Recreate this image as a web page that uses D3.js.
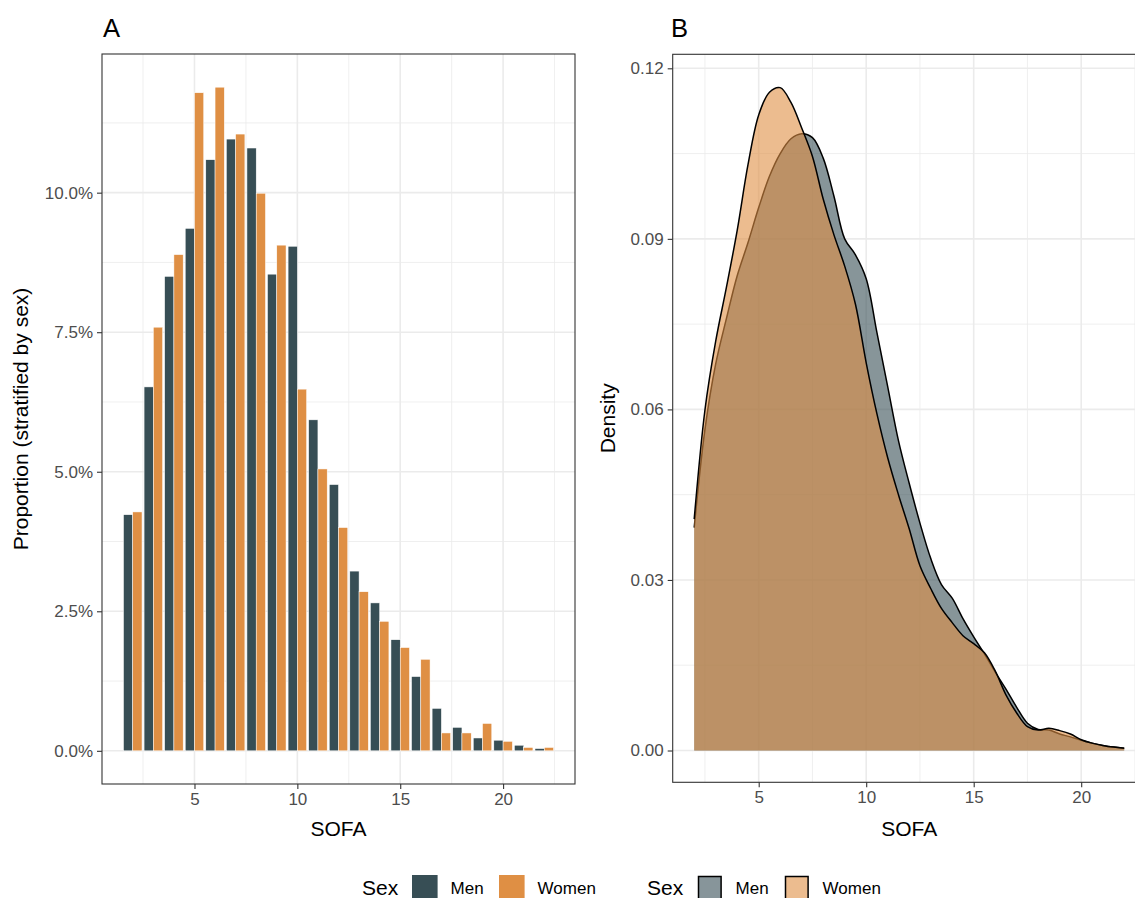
<!DOCTYPE html>
<html>
<head>
<meta charset="utf-8">
<script src="https://cdn.jsdelivr.net/npm/d3@7"></script>
<style>
  html, body { margin: 0; padding: 0; background: #ffffff; }
  svg { display: block; font-family: "Liberation Sans", Arial, Helvetica, sans-serif; }
</style>
</head>
<body>
<svg id="chart" width="1135" height="898"></svg>
<script>
// SOFA score categories and proportion of patients (stratified by sex)
const sofaScores = d3.range(2, 23);
const menProportion = [0.0423, 0.0652, 0.0850, 0.0936, 0.1059, 0.1096, 0.1080, 0.0854, 0.0904, 0.0593, 0.0477,
                       0.0322, 0.0265, 0.0199, 0.0133, 0.0076, 0.0042, 0.0023, 0.0019, 0.0010, 0.0004];
const womenProportion = [0.0428, 0.0759, 0.0889, 0.1179, 0.1189, 0.1105, 0.0999, 0.0906, 0.0648, 0.0505, 0.0400,
                         0.0285, 0.0232, 0.0185, 0.0164, 0.0032, 0.0032, 0.0049, 0.0017, 0.0006, 0.0006];

// Kernel density estimates of SOFA, evaluated on a half-point grid
const densityGrid = d3.range(2, 22.01, 0.5);
const menDensity = [0.0392, 0.0565, 0.0680, 0.0760, 0.0835, 0.0893, 0.0955, 0.1010, 0.1050, 0.1076, 0.1085,
                    0.1078, 0.1042, 0.0975, 0.0900, 0.0872, 0.0830, 0.0735, 0.0640, 0.0545, 0.0470, 0.0400,
                    0.0338, 0.0292, 0.0268, 0.0232, 0.0200, 0.0170, 0.0138, 0.0108, 0.0076, 0.0048, 0.0037,
                    0.0036, 0.0029, 0.0024, 0.0018, 0.0013, 0.0009, 0.0006, 0.0004];
const womenDensity = [0.0407, 0.0599, 0.0720, 0.0815, 0.0915, 0.1030, 0.1118, 0.1158, 0.1166, 0.1140, 0.1095,
                      0.1045, 0.0970, 0.0907, 0.0852, 0.0785, 0.0682, 0.0592, 0.0515, 0.0450, 0.0390, 0.0325,
                      0.0285, 0.0250, 0.0225, 0.0202, 0.0188, 0.0172, 0.0140, 0.0098, 0.0066, 0.0042, 0.0036,
                      0.0039, 0.0035, 0.0029, 0.0019, 0.0013, 0.0009, 0.0006, 0.0004];

const sexLabels = ["Men", "Women"];
const xTicks = [5, 10, 15, 20];
const propTicks = [0, 0.025, 0.05, 0.075, 0.10];
const densTicks = [0, 0.03, 0.06, 0.09, 0.12];

const colMen = "#374E55", colWomen = "#DF8F44";
const gridMajor = "#EBEBEB", border = "#333333", tickText = "#4D4D4D";

const svg = d3.select("#chart");

function drawGrid(g, x, y, xMajor, xMinor, yMajor, yMinor, x0, x1, y0, y1) {
  const grid = g.append("g");
  grid.selectAll(".vmin").data(xMinor).join("line")
    .attr("x1", d => x(d)).attr("x2", d => x(d)).attr("y1", y0).attr("y2", y1)
    .attr("stroke", gridMajor).attr("stroke-width", 0.8);
  grid.selectAll(".hmin").data(yMinor).join("line")
    .attr("x1", x0).attr("x2", x1).attr("y1", d => y(d)).attr("y2", d => y(d))
    .attr("stroke", gridMajor).attr("stroke-width", 0.8);
  grid.selectAll(".vmaj").data(xMajor).join("line")
    .attr("x1", d => x(d)).attr("x2", d => x(d)).attr("y1", y0).attr("y2", y1)
    .attr("stroke", gridMajor).attr("stroke-width", 1.6);
  grid.selectAll(".hmaj").data(yMajor).join("line")
    .attr("x1", x0).attr("x2", x1).attr("y1", d => y(d)).attr("y2", d => y(d))
    .attr("stroke", gridMajor).attr("stroke-width", 1.6);
}

function styleAxis(ax) {
  ax.select(".domain").remove();
  ax.selectAll(".tick line").attr("stroke", border).attr("stroke-width", 1.1);
  ax.selectAll(".tick text").attr("fill", tickText).style("font-size", "17px")
    .style("font-family", "'Liberation Sans', Arial, sans-serif");
}

/* ---------- Panel A: bar chart ---------- */
const A = { left: 102, right: 575, top: 54, bottom: 784 };
const xA = d3.scaleLinear().domain([0.505, 23.495]).range([A.left, A.right]);
const yA = d3.scaleLinear().domain([-0.005945, 0.124845]).range([A.bottom, A.top]);
const gA = svg.append("g");

drawGrid(gA, xA, yA, xTicks, [2.5, 7.5, 12.5, 17.5, 22.5], propTicks,
         [0.0125, 0.0375, 0.0625, 0.0875, 0.1125], A.left, A.right, A.top, A.bottom);

const barHalf = 0.45;
const barRows = sofaScores.map((s, i) => ({ s, men: menProportion[i], women: womenProportion[i] }));
gA.append("g").selectAll("rect").data(barRows).join("rect")
  .attr("x", d => xA(d.s - barHalf)).attr("width", d => xA(d.s) - xA(d.s - barHalf))
  .attr("y", d => yA(d.men)).attr("height", d => yA(0) - yA(d.men))
  .attr("fill", colMen).attr("stroke", "#ffffff").attr("stroke-width", 0.5);
gA.append("g").selectAll("rect").data(barRows).join("rect")
  .attr("x", d => xA(d.s)).attr("width", d => xA(d.s + barHalf) - xA(d.s))
  .attr("y", d => yA(d.women)).attr("height", d => yA(0) - yA(d.women))
  .attr("fill", colWomen).attr("stroke", "#ffffff").attr("stroke-width", 0.5);

gA.append("rect").attr("x", A.left).attr("y", A.top)
  .attr("width", A.right - A.left).attr("height", A.bottom - A.top)
  .attr("fill", "none").attr("stroke", border).attr("stroke-width", 1.1);

const axAx = gA.append("g").attr("transform", `translate(0,${A.bottom})`)
  .call(d3.axisBottom(xA).tickValues(xTicks).tickSize(5).tickPadding(4).tickFormat(d3.format("d")));
styleAxis(axAx);
const axAy = gA.append("g").attr("transform", `translate(${A.left},0)`)
  .call(d3.axisLeft(yA).tickValues(propTicks).tickSize(5).tickPadding(4).tickFormat(d3.format(".1%")));
styleAxis(axAy);

gA.append("text").attr("x", (A.left + A.right) / 2).attr("y", 836)
  .attr("text-anchor", "middle").style("font-size", "21px").attr("fill", "#000").text("SOFA");
gA.append("text").attr("transform", `translate(28,${(A.top + A.bottom) / 2}) rotate(-90)`)
  .attr("text-anchor", "middle").style("font-size", "21px").attr("fill", "#000")
  .text("Proportion (stratified by sex)");
gA.append("text").attr("x", 103).attr("y", 37).style("font-size", "25.6px").attr("fill", "#000").text("A");

/* ---------- Panel B: density plot ---------- */
const B = { left: 672.7, right: 1145.7, top: 54.3, bottom: 782.3 };
const xB = d3.scaleLinear().domain([1, 23]).range([B.left, B.right]);
const yB = d3.scaleLinear().domain([-0.005592, 0.122463]).range([B.bottom, B.top]);
const gB = svg.append("g");

drawGrid(gB, xB, yB, xTicks, [2.5, 7.5, 12.5, 17.5, 22.5], densTicks,
         [0.015, 0.045, 0.075, 0.105], B.left, B.right, B.top, B.bottom);

const curve = d3.curveCatmullRom.alpha(0.5);
const area = d3.area().x(d => xB(d[0])).y0(yB(0)).y1(d => yB(d[1])).curve(curve);
const line = d3.line().x(d => xB(d[0])).y(d => yB(d[1])).curve(curve);
const menPts = densityGrid.map((g, i) => [g, menDensity[i]]);
const womenPts = densityGrid.map((g, i) => [g, womenDensity[i]]);

[[menPts, colMen], [womenPts, colWomen]].forEach(([pts, col]) => {
  gB.append("path").datum(pts).attr("d", area).attr("fill", col).attr("fill-opacity", 0.6);
  gB.append("path").datum(pts).attr("d", line).attr("fill", "none")
    .attr("stroke", "#000").attr("stroke-width", 1.5);
});

gB.append("rect").attr("x", B.left).attr("y", B.top)
  .attr("width", B.right - B.left).attr("height", B.bottom - B.top)
  .attr("fill", "none").attr("stroke", border).attr("stroke-width", 1.1);

const axBx = gB.append("g").attr("transform", `translate(0,${B.bottom})`)
  .call(d3.axisBottom(xB).tickValues(xTicks).tickSize(5).tickPadding(4).tickFormat(d3.format("d")));
styleAxis(axBx);
const axBy = gB.append("g").attr("transform", `translate(${B.left},0)`)
  .call(d3.axisLeft(yB).tickValues(densTicks).tickSize(5).tickPadding(4).tickFormat(d3.format(".2f")));
styleAxis(axBy);

gB.append("text").attr("x", (B.left + B.right) / 2).attr("y", 836)
  .attr("text-anchor", "middle").style("font-size", "21px").attr("fill", "#000").text("SOFA");
gB.append("text").attr("transform", `translate(615,${(B.top + B.bottom) / 2}) rotate(-90)`)
  .attr("text-anchor", "middle").style("font-size", "21px").attr("fill", "#000").text("Density");
gB.append("text").attr("x", 671).attr("y", 37).style("font-size", "25.6px").attr("fill", "#000").text("B");

/* ---------- Legends ---------- */
function legend(x0, keyFill, keyStroke, inset) {
  const g = svg.append("g");
  const keyTop = 875, keySize = 25.6, mid = keyTop + keySize / 2;
  g.append("text").attr("x", x0).attr("y", mid + 7.5).style("font-size", "21px").attr("fill", "#000").text("Sex");
  const keyX = [x0 + 50, x0 + 137];
  sexLabels.forEach((lab, i) => {
    g.append("rect").attr("x", keyX[i] + inset).attr("y", keyTop + inset)
      .attr("width", keySize - 2 * inset).attr("height", keySize - 2 * inset)
      .attr("fill", keyFill[i]).attr("stroke", keyStroke).attr("stroke-width", keyStroke === "none" ? 0 : 1.5);
    g.append("text").attr("x", keyX[i] + keySize + 13).attr("y", mid + 6)
      .style("font-size", "17px").attr("fill", "#000").text(lab);
  });
}
legend(362, [colMen, colWomen], "none", 0);
legend(647, ["#87959A", "#ECBC8F"], "#000", 1.5);
</script>
</body>
</html>
